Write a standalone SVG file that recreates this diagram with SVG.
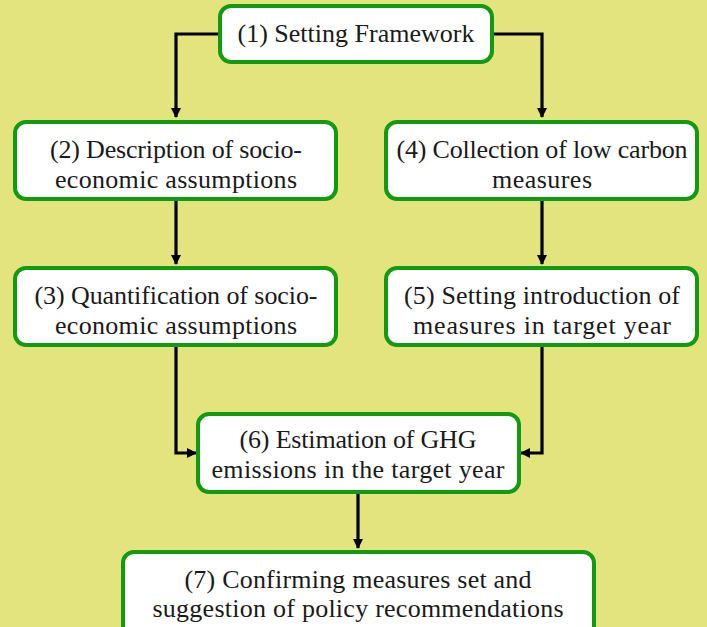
<svg xmlns="http://www.w3.org/2000/svg" width="707" height="627" viewBox="0 0 707 627">
<defs>
<style>
.box{fill:#ffffff;stroke:#129a12;stroke-width:4}
text{font-family:'Liberation Serif','DejaVu Serif',serif;font-size:26px;fill:#1a1a1a;text-anchor:middle}
.c{fill:none;stroke:#000;stroke-width:3.2}
</style>
<marker id="ah" markerWidth="10" markerHeight="10" refX="9" refY="5" orient="auto" markerUnits="userSpaceOnUse">
<path d="M0,0 L10,5 L0,10 Z" fill="#000"/>
</marker>
</defs>
<rect width="707" height="627" fill="#e4e47e"/>
<g id="connectors">
<path class="c" d="M219,34 H176 V117" marker-end="url(#ah)"/>
<path class="c" d="M493,34 H542 V117" marker-end="url(#ah)"/>
<path class="c" d="M176,200 V264" marker-end="url(#ah)"/>
<path class="c" d="M542,200 V264" marker-end="url(#ah)"/>
<path class="c" d="M176,346 V453 H196" marker-end="url(#ah)"/>
<path class="c" d="M542,346 V453 H521" marker-end="url(#ah)"/>
<path class="c" d="M358,493 V548" marker-end="url(#ah)"/>
</g>
<g id="n1">
<rect class="box" x="220" y="6" width="272" height="56" rx="11"/>
<text x="356" y="42" textLength="237" lengthAdjust="spacing">(1) Setting Framework</text>
</g>
<g id="n2">
<rect class="box" x="15" y="122" width="321" height="77" rx="11"/>
<text x="176" y="158" textLength="252" lengthAdjust="spacing">(2) Description of socio-</text>
<text x="176" y="188" textLength="242" lengthAdjust="spacing">economic assumptions</text>
</g>
<g id="n4">
<rect class="box" x="386" y="122" width="311" height="77" rx="11"/>
<text x="542" y="158" textLength="291" lengthAdjust="spacing">(4) Collection of low carbon</text>
<text x="542" y="188" textLength="100" lengthAdjust="spacing">measures</text>
</g>
<g id="n3">
<rect class="box" x="15" y="268" width="321" height="77" rx="11"/>
<text x="176" y="304" textLength="283" lengthAdjust="spacing">(3) Quantification of socio-</text>
<text x="176" y="334" textLength="242" lengthAdjust="spacing">economic assumptions</text>
</g>
<g id="n5">
<rect class="box" x="386" y="268" width="311" height="77" rx="11"/>
<text x="542" y="304" textLength="276" lengthAdjust="spacing">(5) Setting introduction of</text>
<text x="542" y="334" textLength="258" lengthAdjust="spacing">measures in target year</text>
</g>
<g id="n6">
<rect class="box" x="198" y="414" width="321" height="78" rx="11"/>
<text x="358" y="448" textLength="237" lengthAdjust="spacing">(6) Estimation of GHG</text>
<text x="358" y="478" textLength="293" lengthAdjust="spacing">emissions in the target year</text>
</g>
<g id="n7">
<rect class="box" x="123" y="552" width="471" height="90" rx="11"/>
<text x="358" y="588" textLength="347" lengthAdjust="spacing">(7) Confirming measures set and</text>
<text x="358" y="617" textLength="411" lengthAdjust="spacing">suggestion of policy recommendations</text>
</g>
</svg>
